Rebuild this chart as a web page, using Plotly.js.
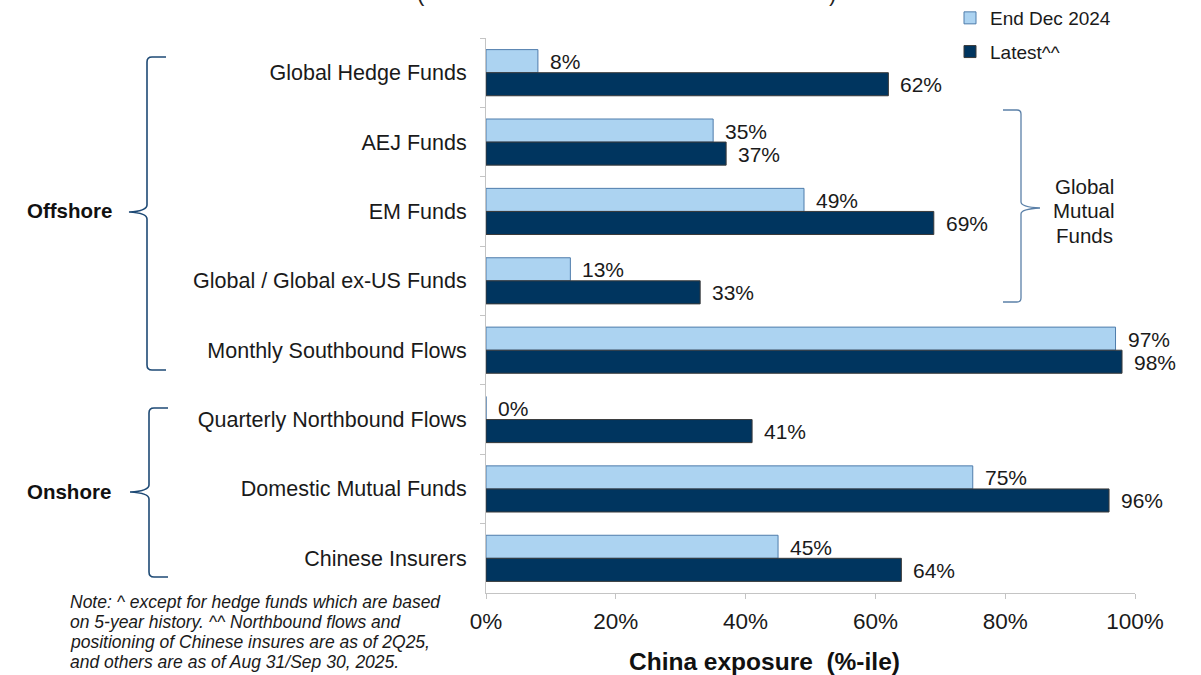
<!DOCTYPE html>
<html>
<head>
<meta charset="utf-8">
<script src="https://cdn.plot.ly/plotly-3.0.1.min.js"></script>
<style>
  html, body { margin: 0; padding: 0; background: #ffffff; }
  #chart { width: 1201px; height: 675px; }
</style>
</head>
<body>
<div id="chart"></div>
<script>
// ---- data ----
const categories = [
  "Global Hedge Funds",
  "AEJ Funds",
  "EM Funds",
  "Global / Global ex-US Funds",
  "Monthly Southbound Flows",
  "Quarterly Northbound Flows",
  "Domestic Mutual Funds",
  "Chinese Insurers"
];
const endDec2024 = [8, 35, 49, 13, 97, 0, 75, 45];
const latest = [62, 37, 69, 33, 98, 41, 96, 64];
const seriesNames = ["End Dec 2024", "Latest^^"];
const xTickValues = [0, 20, 40, 60, 80, 100];
const xAxisTitle = "China exposure \u00a0(%-ile)";
const groupLabels = ["Offshore", "Onshore"];
const rightGroupLabel = ["Global", "Mutual", "Funds"];
const noteLines = [
  "Note: ^ except for hedge funds which are based",
  "on 5-year history. ^^ Northbound flows and",
  "positioning of Chinese insures are as of 2Q25,",
  "and others are as of Aug 31/Sep 30, 2025."
];

// ---- geometry helpers (page pixels -> paper) ----
const W = 1201, H = 675;
const M = {l: 486, r: 66, t: 38, b: 82, autoexpand: false};
const PW = W - M.l - M.r, PH = H - M.t - M.b;
const px = x => (x - M.l) / PW;
const py = y => (H - M.b - y) / PH;

function pathFrom(cmds) {
  return cmds.map(c => {
    if (c[0] === 'Q') return 'Q ' + px(c[1]) + ' ' + py(c[2]) + ' ' + px(c[3]) + ' ' + py(c[4]);
    return c[0] + ' ' + px(c[1]) + ' ' + py(c[2]);
  }).join(' ');
}
function leftBrace(xv, top, bot, tip, tipX, armX) {
  return pathFrom([
    ['M', armX, top], ['L', xv + 5, top], ['Q', xv, top, xv, top + 5],
    ['L', xv, tip - 7], ['Q', xv, tip - 1, tipX, tip],
    ['Q', xv, tip + 1, xv, tip + 7],
    ['L', xv, bot - 5], ['Q', xv, bot, xv + 5, bot], ['L', armX, bot]
  ]);
}
function rightBrace(xv, top, bot, tip, tipX, armX) {
  return pathFrom([
    ['M', armX, top], ['L', xv - 4, top], ['Q', xv, top, xv, top + 4],
    ['L', xv, tip - 6], ['Q', xv, tip - 1, tipX, tip],
    ['Q', xv, tip + 1, xv, tip + 6],
    ['L', xv, bot - 4], ['Q', xv, bot, xv - 4, bot], ['L', armX, bot]
  ]);
}

const FONT = "Liberation Sans, Arial, sans-serif";
const TXT = "#1a1a1a";

const traces = [
  {
    type: 'bar', orientation: 'h', name: seriesNames[0],
    y: categories, x: endDec2024,
    marker: {color: '#acd3f1', line: {color: '#4f7cab', width: 1}},
    legendgroup: 'a', hoverinfo: 'x+y'
  },
  {
    type: 'bar', orientation: 'h', name: seriesNames[1],
    y: categories, x: latest,
    marker: {color: '#00355f', line: {color: '#3a3a3a', width: 1}},
    legendgroup: 'b', hoverinfo: 'x+y'
  }
];

const annotations = [];
// value labels
categories.forEach((c, i) => {
  annotations.push({x: endDec2024[i], y: c, xref: 'x', yref: 'y', text: endDec2024[i] + '%',
    showarrow: false, xanchor: 'left', yanchor: 'middle', xshift: 10, yshift: 11,
    font: {family: FONT, size: 21, color: TXT}});
  annotations.push({x: latest[i], y: c, xref: 'x', yref: 'y', text: latest[i] + '%',
    showarrow: false, xanchor: 'left', yanchor: 'middle', xshift: 10, yshift: -12,
    font: {family: FONT, size: 21, color: TXT}});
});
// group labels
annotations.push({xref: 'paper', yref: 'paper', x: px(69), y: py(210), text: '<b>' + groupLabels[0] + '</b>',
  showarrow: false, xanchor: 'center', yanchor: 'middle', font: {family: FONT, size: 20.5, color: '#111'}});
annotations.push({xref: 'paper', yref: 'paper', x: px(69), y: py(491), text: '<b>' + groupLabels[1] + '</b>',
  showarrow: false, xanchor: 'center', yanchor: 'middle', font: {family: FONT, size: 20.5, color: '#111'}});
rightGroupLabel.forEach((t, i) => {
  annotations.push({xref: 'paper', yref: 'paper', x: px(1084), y: py(186 + i * 24.5), text: t,
    showarrow: false, xanchor: 'center', yanchor: 'middle',
    font: {family: FONT, size: 20.5, color: TXT}});
});
// note
noteLines.forEach((t, i) => {
  annotations.push({xref: 'paper', yref: 'paper', x: px(68), y: py(602 + i * 20), text: '<i>' + t + '</i>',
    showarrow: false, xanchor: 'left', yanchor: 'middle', align: 'left',
    font: {family: FONT, size: 17.5, color: TXT}});
});
// x-axis title
annotations.push({xref: 'paper', yref: 'paper', x: px(764), y: py(661), text: '<b>' + xAxisTitle + '</b>',
  showarrow: false, xanchor: 'center', yanchor: 'middle', font: {family: FONT, size: 24.5, color: '#111'}});
// cut-off title parentheses (only their lower tails show in the reference)
annotations.push({xref: 'paper', yref: 'paper', x: px(421), y: py(-6), text: '(',
  showarrow: false, xanchor: 'center', yanchor: 'middle', font: {family: FONT, size: 22, color: '#222'}});
annotations.push({xref: 'paper', yref: 'paper', x: px(832), y: py(-6), text: ')',
  showarrow: false, xanchor: 'center', yanchor: 'middle', font: {family: FONT, size: 22, color: '#222'}});

const shapes = [
  {type: 'path', xref: 'paper', yref: 'paper', path: leftBrace(147, 57, 370, 212, 129, 166),
   line: {color: '#1e4a75', width: 1.6}},
  {type: 'path', xref: 'paper', yref: 'paper', path: leftBrace(149, 408, 577, 492, 130, 168),
   line: {color: '#1e4a75', width: 1.6}},
  {type: 'path', xref: 'paper', yref: 'paper', path: rightBrace(1021, 110, 302, 208, 1040, 1003),
   line: {color: '#5b80a8', width: 1.3}}
];

const layout = {
  width: W, height: H,
  margin: M,
  paper_bgcolor: '#ffffff', plot_bgcolor: '#ffffff',
  font: {family: FONT, size: 18, color: TXT},
  barmode: 'group', bargap: 0.335, bargroupgap: 0,
  showlegend: true,
  legend: {x: px(950), y: py(-1), xanchor: 'left', yanchor: 'top', xref: 'paper', yref: 'paper',
    traceorder: 'grouped', tracegroupgap: 6, bgcolor: 'rgba(0,0,0,0)',
    font: {family: FONT, size: 19, color: TXT}, itemwidth: 30},
  xaxis: {
    range: [0, 100], tickvals: xTickValues, ticktext: xTickValues.map(v => v + '%'),
    showgrid: false, zeroline: false, showline: true, linecolor: '#c4c4c4', linewidth: 1,
    ticks: 'outside', ticklen: 5, tickcolor: '#c4c4c4', ticklabelstandoff: 3,
    tickfont: {family: FONT, size: 22.5, color: TXT}, fixedrange: true
  },
  yaxis: {
    type: 'category', autorange: 'reversed',
    showgrid: false, zeroline: false, showline: true, linecolor: '#c4c4c4', linewidth: 1,
    ticks: 'outside', tickson: 'boundaries', ticklen: 5, tickcolor: '#c4c4c4', ticklabelstandoff: 14,
    tickfont: {family: FONT, size: 21.5, color: TXT}, fixedrange: true
  },
  annotations: annotations,
  shapes: shapes
};

Plotly.newPlot('chart', traces, layout, {displayModeBar: false, staticPlot: true});
</script>
</body>
</html>
